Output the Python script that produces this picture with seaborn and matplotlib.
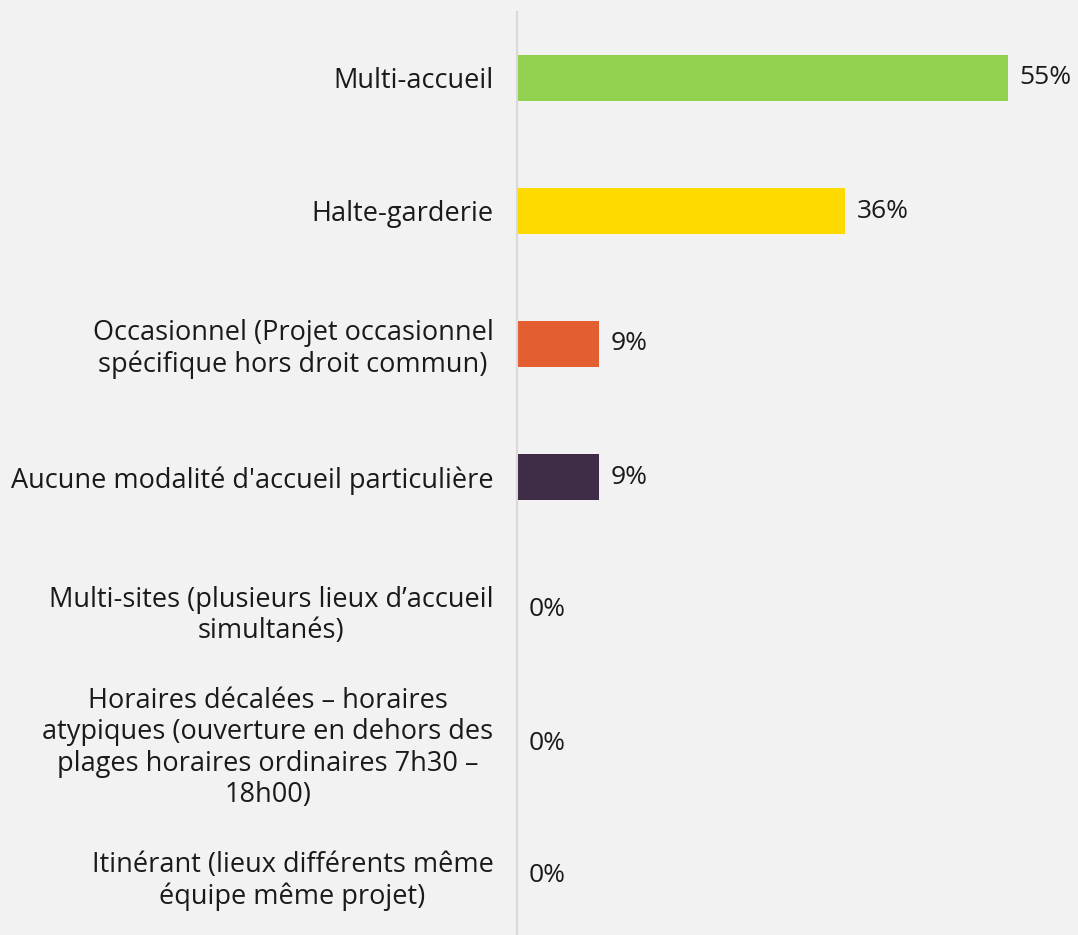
import pandas as pd
import seaborn as sns
import matplotlib.pyplot as plt

categories = [
    "Multi-accueil",
    "Halte-garderie",
    "Occasionnel (Projet occasionnel\nspécifique hors droit commun)",
    "Aucune modalité d'accueil particulière",
    "Multi-sites (plusieurs lieux d\u2019accueil\nsimultanés)",
    "Horaires décalées \u2013 horaires\natypiques (ouverture en dehors des\nplages horaires ordinaires 7h30 \u2013\n18h00)",
    "Itinérant (lieux différents même\néquipe même projet)",
]
values = [54.5, 36.4, 9.1, 9.1, 0, 0, 0]
value_labels = ["55%", "36%", "9%", "9%", "0%", "0%", "0%"]
colors = ["#92d050", "#ffda00", "#e35f32", "#3f2d48", "#a0a0a0", "#a0a0a0", "#a0a0a0"]

df = pd.DataFrame({"cat": categories, "val": values})

sns.set_style("white")
plt.rcParams["font.family"] = ["Open Sans", "DejaVu Sans"]
bg = "#f2f2f2"

fig = plt.figure(figsize=(10.78, 9.35), dpi=100, facecolor=bg)
ax = fig.add_axes([517 / 1078, 0, 561 / 1078, 923.5 / 935])
ax.set_facecolor(bg)

sns.barplot(data=df, x="val", y="cat", hue="cat", palette=colors, legend=False,
            width=0.35, ax=ax, saturation=1, edgecolor="none", linewidth=0)

ax.set_xlim(0, 561 / 9.01)
ax.set_ylim(-0.5 + 923.5 / 133, -0.5)

for i, (v, lab) in enumerate(zip(values, value_labels)):
    ax.text(v + 1.3, i, lab, va="center", ha="left", fontsize=19, color="#1a1a1a")

ax.set_xlabel("")
ax.set_ylabel("")
ax.set_xticks([])
ax.tick_params(axis="y", length=0, pad=17, labelsize=19.5, labelcolor="#1a1a1a")
for t in ax.get_yticklabels():
    t.set_multialignment("center")
    t.set_linespacing(1.15)

for s in ["top", "right", "bottom"]:
    ax.spines[s].set_visible(False)
ax.spines["left"].set_color("#d9d9d9")
ax.spines["left"].set_linewidth(1.5)

fig.savefig("out.png", dpi=100, facecolor=bg)
